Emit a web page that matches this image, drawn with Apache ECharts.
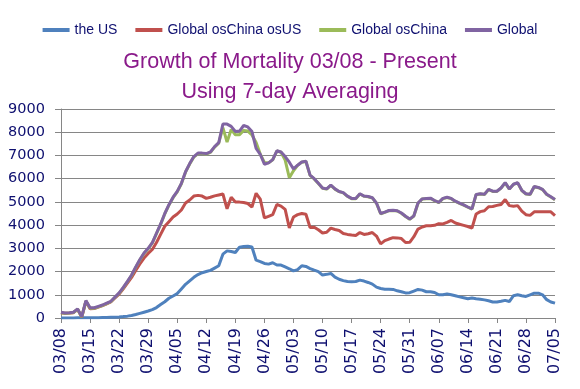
<!DOCTYPE html>
<html>
<head>
<meta charset="utf-8">
<script src="https://cdn.jsdelivr.net/npm/echarts@6/dist/echarts.min.js"></script>
<style>html,body{margin:0;padding:0;background:#fff}#c{width:580px;height:389px}</style>
</head>
<body>
<div id="c"></div>
<script>
var categories = [
'03/08','03/09','03/10','03/11','03/12','03/13','03/14','03/15','03/16','03/17','03/18','03/19','03/20','03/21','03/22','03/23','03/24','03/25','03/26','03/27','03/28','03/29','03/30','03/31',
'04/01','04/02','04/03','04/04','04/05','04/06','04/07','04/08','04/09','04/10','04/11','04/12','04/13','04/14','04/15','04/16','04/17','04/18','04/19','04/20','04/21','04/22','04/23','04/24','04/25','04/26','04/27','04/28','04/29','04/30',
'05/01','05/02','05/03','05/04','05/05','05/06','05/07','05/08','05/09','05/10','05/11','05/12','05/13','05/14','05/15','05/16','05/17','05/18','05/19','05/20','05/21','05/22','05/23','05/24','05/25','05/26','05/27','05/28','05/29','05/30','05/31',
'06/01','06/02','06/03','06/04','06/05','06/06','06/07','06/08','06/09','06/10','06/11','06/12','06/13','06/14','06/15','06/16','06/17','06/18','06/19','06/20','06/21','06/22','06/23','06/24','06/25','06/26','06/27','06/28','06/29','06/30',
'07/01','07/02','07/03','07/04','07/05'];

var seriesNames = ['the US', 'Global osChina osUS', 'Global osChina', 'Global'];

var usValues = [
2,3,4,5,6,7,8,10,12,15,
20,25,30,35,45,60,80,110,150,200,
250,300,360,450,580,700,850,950,1050,1250,
1450,1600,1750,1870,1950,2000,2050,2150,2250,2750,
2890,2860,2820,3050,3080,3090,3060,2490,2430,2350,
2320,2380,2280,2280,2200,2120,2030,2080,2250,2220,
2130,2060,2000,1850,1880,1920,1760,1670,1610,1570,
1560,1570,1630,1590,1530,1460,1330,1270,1240,1240,
1230,1170,1130,1080,1090,1160,1230,1200,1130,1130,
1100,1000,1000,1040,1000,960,910,870,830,860,
830,810,780,740,690,690,720,760,710,960,
1000,960,930,1000,1070,1070,1000,790,690,640];

var globalOsChinaOsUsValues = [
230,200,210,230,370,40,720,400,410,470,
530,610,690,860,1030,1260,1500,1750,2050,2330,
2580,2780,2950,3250,3600,3950,4150,4350,4480,4650,
4950,5080,5250,5280,5250,5150,5200,5260,5300,5340,
4700,5200,5000,4990,4970,4930,4780,5370,5120,4310,
4380,4450,4890,4820,4680,3880,4350,4450,4500,4470,
3900,3910,3800,3660,3690,3870,3810,3770,3640,3600,
3570,3550,3680,3600,3630,3680,3530,3190,3330,3400,
3460,3450,3420,3250,3260,3500,3830,3920,3970,3970,
3990,4060,4050,4120,4200,4090,4040,3990,3940,3870,
4480,4580,4620,4790,4800,4850,4890,5100,4840,4810,
4840,4600,4450,4420,4570,4570,4570,4570,4570,4410];

var globalOsChinaValues = [
230,200,210,235,375,45,730,420,420,480,
540,620,700,880,1060,1300,1560,1830,2180,2500,
2780,2980,3230,3630,4030,4480,4860,5180,5430,5780,
6280,6630,6930,7080,7080,7060,7130,7360,7530,8200,
7580,8120,7890,7890,8080,8050,7880,7560,7060,6700,
6680,6810,7190,7140,6800,6040,6340,6570,6710,6740,
6140,5990,5790,5590,5550,5710,5550,5440,5390,5240,
5140,5140,5340,5240,5220,5170,4940,4490,4550,4620,
4630,4610,4510,4370,4250,4390,4940,5120,5140,5150,
5050,4970,5140,5190,5140,5020,4940,4860,4770,4690,
5310,5340,5320,5530,5450,5450,5590,5820,5550,5750,
5820,5490,5340,5320,5650,5610,5530,5320,5210,5090];

var globalValues = [
250,215,225,250,390,60,750,440,440,500,
560,640,720,900,1080,1320,1580,1850,2200,2520,
2800,3000,3250,3650,4050,4500,4880,5200,5450,5800,
6300,6650,6950,7100,7100,7080,7150,7380,7550,8350,
8350,8250,8030,8050,8290,8230,8030,7300,7050,6620,
6680,6820,7200,7150,6950,6710,6420,6580,6720,6750,
6150,6000,5800,5600,5560,5720,5560,5450,5400,5250,
5150,5150,5350,5250,5230,5180,4950,4500,4560,4630,
4640,4620,4520,4380,4260,4400,4950,5130,5150,5160,
5060,4980,5150,5200,5150,5030,4950,4870,4780,4700,
5320,5350,5330,5540,5460,5460,5600,5830,5560,5760,
5830,5500,5350,5330,5660,5620,5540,5330,5220,5100];

var yTicks = [0,1000,2000,3000,4000,5000,6000,7000,8000,9000];

var colors = ['#4F81BD', '#C0504D', '#9BBB59', '#8064A2'];
var navy = '#0F1070';
var gridGray = '#868686';

function mkSeries(name, data, color, z) {
  return {
    name: name, type: 'line', data: data, showSymbol: false, symbol: 'none',
    lineStyle: { width: 3, color: color }, itemStyle: { color: color },
    z: z, animation: false
  };
}

var chart = echarts.init(document.getElementById('c'), null, { renderer: 'canvas' });
chart.setOption({
  animation: false,
  backgroundColor: '#ffffff',
  color: colors,
  title: [
    { text: 'Growth of Mortality 03/08 - Present', left: 'center', top: 51, padding: 0,
      textStyle: { fontFamily: 'Liberation Sans', fontSize: 21.5, fontWeight: 'normal', color: '#8A1A8A' } },
    { text: 'Using 7-day Averaging', left: 'center', top: 81, padding: 0,
      textStyle: { fontFamily: 'Liberation Sans', fontSize: 21.5, fontWeight: 'normal', color: '#8A1A8A' } }
  ],
  legend: {
    data: seriesNames, top: 18, left: 'center', icon: 'rect', itemWidth: 27, itemHeight: 4, itemGap: 18,
    textStyle: { fontFamily: 'Liberation Sans', fontSize: 14, color: navy }
  },
  grid: { left: 61, right: 25, top: 109, bottom: 71, containLabel: false },
  xAxis: {
    type: 'category', data: categories, boundaryGap: false,
    axisLine: { lineStyle: { color: gridGray, width: 1 } },
    axisTick: { show: true, interval: 6, length: 5, lineStyle: { color: gridGray } },
    axisLabel: { interval: 6, rotate: 90, margin: 10, fontFamily: 'DejaVu Sans', fontSize: 16, color: navy },
    splitLine: { show: false }
  },
  yAxis: {
    type: 'value', min: yTicks[0], max: yTicks[yTicks.length - 1], interval: 1000,
    axisLine: { show: true, lineStyle: { color: gridGray, width: 1 } },
    axisTick: { show: true, length: 6, lineStyle: { color: gridGray } },
    axisLabel: { margin: 16, fontFamily: 'DejaVu Sans', fontSize: 14.5, color: navy,
      formatter: function (v) { return String(v); } },
    splitLine: { show: true, lineStyle: { color: gridGray, width: 1 } }
  },
  series: [
    mkSeries(seriesNames[0], usValues, colors[0], 2),
    mkSeries(seriesNames[1], globalOsChinaOsUsValues, colors[1], 3),
    mkSeries(seriesNames[2], globalOsChinaValues, colors[2], 4),
    mkSeries(seriesNames[3], globalValues, colors[3], 5)
  ]
});
</script>
</body>
</html>
